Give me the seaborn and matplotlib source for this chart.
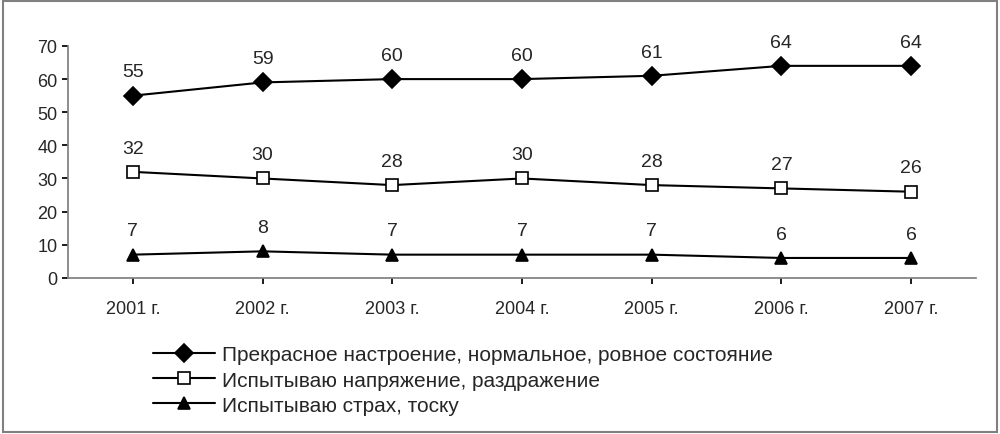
import numpy as np
import pandas as pd
import matplotlib
matplotlib.use('Agg')
import matplotlib.pyplot as plt
import seaborn as sns

years = ['2001 г.', '2002 г.', '2003 г.', '2004 г.', '2005 г.', '2006 г.', '2007 г.']
good = [55, 59, 60, 60, 61, 64, 64]
tension = [32, 30, 28, 30, 28, 27, 26]
fear = [7, 8, 7, 7, 7, 6, 6]
names = ['Прекрасное настроение, нормальное, ровное состояние',
         'Испытываю напряжение, раздражение',
         'Испытываю страх, тоску']

sns.set_theme(style='white')
plt.rcParams['font.family'] = ['Liberation Sans', 'DejaVu Sans']

df = pd.DataFrame({'year': years * 3,
                   'value': good + tension + fear,
                   'series': sum([[n] * len(years) for n in names], [])})

fig = plt.figure(figsize=(10, 4.35), dpi=100)
ax = fig.add_axes([0.068, 0.359, 0.908, 0.533])
sns.lineplot(data=df, x='year', y='value', hue='series', style='series',
             markers={names[0]: 'D', names[1]: 's', names[2]: '^'}, dashes=False,
             palette=['black'] * 3, markersize=9, linewidth=1.5, sort=False, ax=ax, legend=True)
for line, mfc in zip(ax.lines[:3], ['black', 'white', 'black']):
    line.set_markerfacecolor(mfc)
    line.set_markeredgecolor('black')
    line.set_markeredgewidth(1.2)
for vals in (good, tension, fear):
    for i, v in enumerate(vals):
        ax.annotate(str(v), (i, v), xytext=(0, 11), textcoords='offset points',
                    ha='center', va='bottom', fontsize=14)

ax.set_xlim(-0.5, 6.5)
ax.set_ylim(0, 70)
ax.set_yticks(range(0, 71, 10))
ax.set_xlabel('')
ax.set_ylabel('')
ax.tick_params(axis='both', labelsize=13, length=4, left=True, bottom=True, color='black')
ax.tick_params(axis='x', pad=12)
for s in ['top', 'right']:
    ax.spines[s].set_visible(False)
for s in ['left', 'bottom']:
    ax.spines[s].set_color('#808080')

leg = ax.legend(handles=ax.lines[:3], labels=names, loc='upper left',
                bbox_to_anchor=(0.084, -0.255), frameon=False, fontsize=15,
                handlelength=3.0, handletextpad=0.35, labelspacing=0.3, borderaxespad=0)
for h, mfc in zip(leg.legend_handles, ['black', 'white', 'black']):
    h.set_markerfacecolor(mfc)

fig.patches.append(plt.Rectangle((0.003, 0.005), 0.994, 0.99, transform=fig.transFigure,
                                 fill=False, edgecolor='#808080', linewidth=1.5))
fig.savefig('out.png', dpi=100)
